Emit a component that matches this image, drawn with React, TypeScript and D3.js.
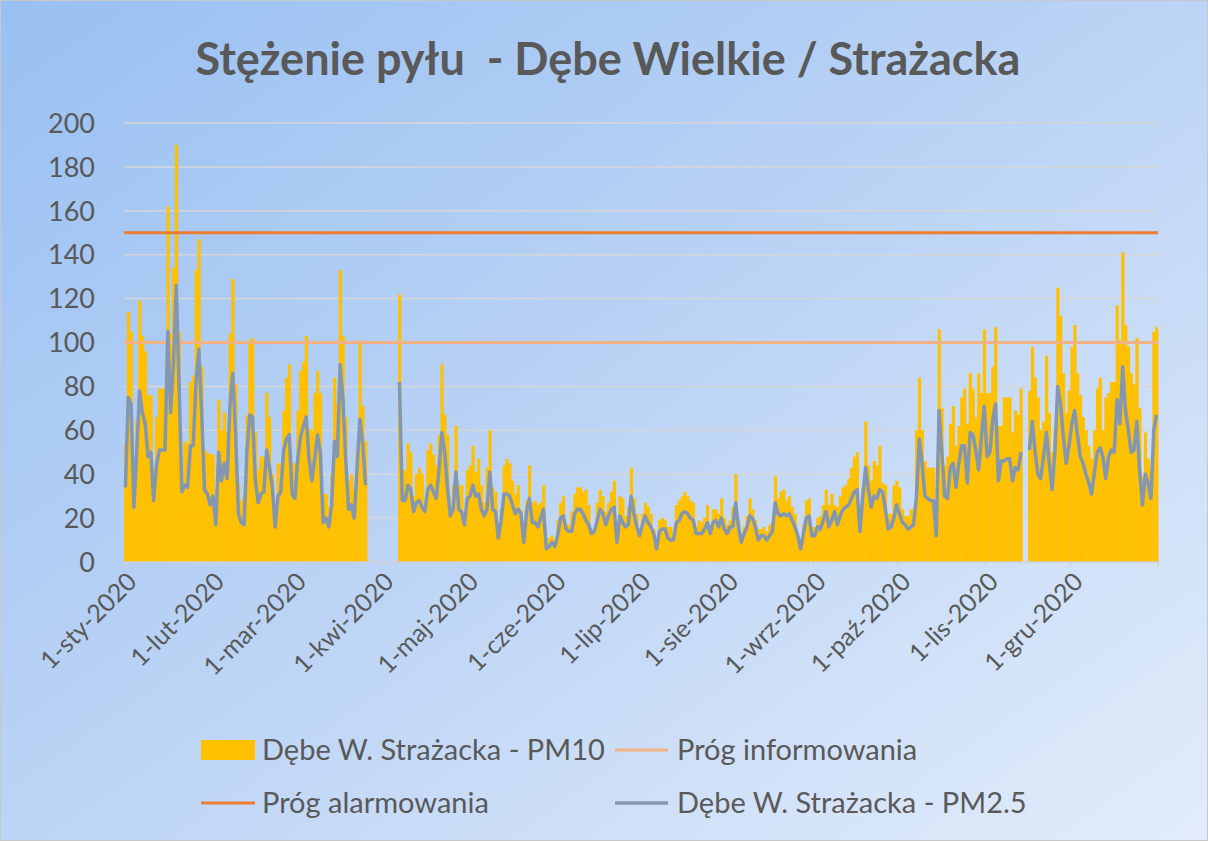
import React from "react";
import * as d3 from "d3";

const TITLE = "Stężenie pyłu  - Dębe Wielkie / Strażacka";
const MONTH_LABELS = ["1-sty-2020", "1-lut-2020", "1-mar-2020", "1-kwi-2020", "1-maj-2020", "1-cze-2020", "1-lip-2020", "1-sie-2020", "1-wrz-2020", "1-paź-2020", "1-lis-2020", "1-gru-2020"];
const Y_TICKS = [0, 20, 40, 60, 80, 100, 120, 140, 160, 180, 200];
const INFO_THRESHOLD = 100;
const ALARM_THRESHOLD = 150;
const SERIES_NAMES = ["Dębe W. Strażacka - PM10", "Próg informowania", "Próg alarmowania", "Dębe W. Strażacka - PM2.5"];

const N = null;
// daily PM10, 1 Jan 2020 – 31 Dec 2020
const PM10: (number | null)[] = [
  // Jan
  54, 114, 105, 30, 64, 119, 103, 96, 76, 76, 43, 66, 79, 79, 79, 162, 104, 134, 190, 105, 36, 55, 54, 82, 85, 133, 147, 89, 51, 50, 49,
  // Feb
  49, 30, 74, 60, 68, 59, 104, 129, 81, 36, 28, 30, 67, 101, 102, 59, 42, 48, 48, 77, 66, 40, 20, 45, 45, 69, 84, 90, 45,
  // Mar
  45, 69, 87, 91, 103, 61, 60, 77, 87, 77, 31, 31, 25, 40, 84, 72, 133, 103, 66, 37, 40, 33, 51, 101, 71, 55, N, N, N, N, N,
  // Apr
  N, N, N, N, N, N, 122, 42, 42, 54, 50, 30, 40, 43, 40, 27, 51, 54, 49, 44, 58, 90, 67, 58, 25, 35, 62, 35, 35, 20,
  // May
  42, 44, 53, 41, 47, 35, 27, 43, 60, 34, 32, 14, 24, 44, 47, 45, 37, 31, 35, 24, 12, 28, 44, 27, 28, 26, 27, 35, 8, 11, 12,
  // Jun
  10, 19, 27, 30, 17, 17, 23, 31, 34, 34, 32, 33, 26, 15, 15, 27, 33, 30, 23, 27, 32, 37, 10, 30, 29, 21, 25, 43, 29, 22,
  // Jul
  12, 22, 27, 25, 22, 15, 6, 19, 20, 19, 16, 16, 13, 26, 28, 30, 32, 30, 28, 27, 16, 19, 18, 20, 26, 17, 24, 24, 22, 29, 20,
  // Aug
  17, 19, 25, 40, 19, 12, 16, 21, 29, 24, 19, 15, 15, 16, 14, 17, 18, 39, 29, 32, 33, 28, 30, 25, 22, 12, 7, 17, 28, 29, 16,
  // Sep
  16, 20, 21, 26, 33, 26, 31, 26, 25, 30, 34, 35, 38, 43, 48, 50, 20, 34, 64, 44, 37, 46, 44, 53, 36, 35, 22, 22, 35, 37,
  // Oct
  34, 24, 21, 21, 24, 24, 60, 84, 60, 46, 43, 43, 43, 12, 106, 70, 44, 48, 63, 71, 53, 62, 75, 79, 63, 86, 79, 66, 86, 77, 106,
  // Nov
  77, 77, 89, 107, 62, 62, 75, 75, 75, 59, 69, 67, 79, N, N, 78, 98, 84, 75, 60, 64, 94, 68, 50, 60, 125, 112, 86, 68, 78,
  // Dec
  98, 108, 86, 76, 66, 60, 53, 47, 60, 79, 84, 60, 75, 77, 82, 82, 117, 101, 141, 108, 98, 86, 81, 102, 70, 39, 59, 47, 42, 105, 107,
];

// daily PM2.5
const PM25: (number | null)[] = [
  // Jan
  34, 75, 72, 25, 50, 78, 68, 63, 48, 50, 28, 44, 51, 51, 51, 105, 68, 90, 126, 80, 32, 35, 34, 53, 53, 82, 97, 68, 33, 31, 26,
  // Feb
  30, 17, 50, 37, 45, 38, 71, 86, 59, 22, 18, 17, 50, 67, 66, 37, 27, 31, 32, 51, 43, 34, 16, 30, 32, 51, 56, 58, 31,
  // Mar
  29, 47, 57, 62, 66, 47, 37, 47, 58, 50, 18, 20, 16, 26, 55, 48, 90, 74, 46, 24, 26, 20, 43, 65, 54, 35, N, N, N, N, N,
  // Apr
  N, N, N, N, N, N, 82, 28, 28, 35, 33, 23, 27, 28, 25, 23, 33, 35, 32, 29, 42, 59, 50, 34, 21, 24, 41, 24, 23, 17,
  // May
  29, 30, 35, 30, 31, 24, 21, 24, 41, 24, 23, 11, 19, 31, 31, 30, 26, 22, 24, 22, 9, 23, 29, 18, 18, 16, 20, 24, 6, 7, 9,
  // Jun
  7, 12, 20, 21, 15, 14, 14, 22, 24, 24, 22, 19, 17, 13, 14, 19, 24, 22, 17, 21, 24, 25, 9, 21, 18, 16, 17, 30, 22, 16,
  // Jul
  12, 17, 21, 18, 16, 13, 6, 14, 15, 15, 11, 10, 10, 18, 19, 22, 23, 22, 20, 19, 13, 13, 13, 15, 18, 13, 18, 19, 16, 20, 15,
  // Aug
  13, 16, 16, 27, 16, 9, 13, 16, 21, 20, 16, 10, 12, 12, 10, 12, 14, 27, 22, 21, 22, 21, 22, 19, 16, 12, 6, 13, 20, 21, 12,
  // Sep
  12, 16, 15, 19, 23, 16, 19, 23, 17, 21, 24, 25, 26, 29, 32, 33, 14, 30, 43, 33, 25, 30, 29, 33, 32, 24, 15, 16, 20, 26,
  // Oct
  22, 18, 17, 15, 16, 17, 30, 56, 45, 30, 29, 28, 28, 12, 69, 50, 30, 29, 43, 45, 34, 45, 53, 53, 36, 59, 58, 51, 42, 57, 71,
  // Nov
  48, 50, 65, 72, 37, 46, 46, 47, 47, 37, 43, 42, 50, N, N, 51, 64, 50, 40, 38, 48, 59, 45, 33, 50, 80, 72, 57, 45, 53,
  // Dec
  63, 69, 58, 48, 45, 40, 36, 31, 41, 50, 52, 48, 38, 48, 51, 50, 74, 63, 89, 69, 60, 50, 51, 64, 42, 26, 40, 36, 29, 60, 67,
];

const W = 1208;
const H = 841;
const X0 = 124;
const X1 = 1158;
const START = new Date(Date.UTC(2020, 0, 1));
const END = new Date(Date.UTC(2021, 0, 1));
const dayDate = (i: number) => new Date(Date.UTC(2020, 0, 1 + i));

const TEXT = "#595959";
const FONT = "Lato, 'Open Sans', sans-serif";
const C_PM10 = "#FFC000";
const C_PM25 = "#8497B0";
const C_INFO = "#F4B183";
const C_ALARM = "#ED7D31";

export default function App() {
  const x = d3.scaleUtc().domain([START, END]).range([X0, X1]);
  const y = d3.scaleLinear().domain([0, 200]).range([562, 123]);
  const monthStarts = d3.utcMonths(START, END);

  const line = d3
    .line<number | null>()
    .defined((d) => d != null)
    .x((_, i) => (x(dayDate(i)) + x(dayDate(i + 1))) / 2)
    .y((d) => y(d as number));

  const thr = (v: number) => `M${X0},${y(v)}H${X1}`;

  return (
    <div style={{ position: "fixed", left: 0, top: 0 }}>
      <svg width={W} height={H} style={{ display: "block" }} fontFamily={FONT}>
        <defs>
          <linearGradient id="bg" x1="0" y1="0" x2="1" y2="1">
            <stop offset="0" stopColor="#99c0f2" />
            <stop offset="0.5" stopColor="#bcd4f5" />
            <stop offset="1" stopColor="#e2ecfa" />
          </linearGradient>
        </defs>
        <rect x={0.5} y={0.5} width={W - 1} height={H - 1} fill="url(#bg)" stroke="#c8c8c8" />

        <text x={608} y={75} textAnchor="middle" fontSize={45} fontWeight="bold" fill={TEXT} style={{ whiteSpace: "pre" }}>
          {TITLE}
        </text>

        {Y_TICKS.map((t) => (
          <g key={t}>
            {t > 0 && <line x1={X0} x2={X1 + 2} y1={y(t)} y2={y(t)} stroke="#d6d6d6" strokeWidth={1.5} />}
            <text x={95} y={y(t)} dy="0.36em" textAnchor="end" fontSize={27} fill={TEXT}>
              {t}
            </text>
          </g>
        ))}

        {PM10.map((v, i) =>
          v == null ? null : (
            <rect
              key={i}
              x={x(dayDate(i))}
              y={y(v)}
              width={x(dayDate(i + 1)) - x(dayDate(i)) + 0.4}
              height={y(0) - y(v)}
              fill={C_PM10}
            />
          )
        )}

        <line x1={X0} x2={X1 + 2} y1={y(0)} y2={y(0)} stroke="#d0d0d0" strokeWidth={1.5} />
        {monthStarts.map((m, i) => (
          <line key={i} x1={x(m)} x2={x(m)} y1={y(0)} y2={y(0) + 5} stroke="#d0d0d0" strokeWidth={1.5} />
        ))}
        <line x1={X1} x2={X1} y1={y(0)} y2={y(0) + 5} stroke="#d0d0d0" strokeWidth={1.5} />

        <path d={thr(ALARM_THRESHOLD)} stroke={C_ALARM} strokeWidth={3} fill="none" />
        <path d={thr(INFO_THRESHOLD)} stroke={C_INFO} strokeWidth={3} fill="none" />
        <path d={line(PM25) || ""} stroke={C_PM25} strokeWidth={3.5} fill="none" strokeLinejoin="round" />

        {monthStarts.map((m, i) => (
          <text
            key={i}
            transform={`translate(${x(m) + 8},${577}) rotate(-45)`}
            textAnchor="end"
            dy="0.35em"
            fontSize={25}
            fill={TEXT}
          >
            {MONTH_LABELS[i]}
          </text>
        ))}

        {/* legend */}
        <rect x={201} y={740} width={54} height={20} fill={C_PM10} />
        <text x={262} y={750} dy="0.35em" fontSize={29} fill={TEXT}>{SERIES_NAMES[0]}</text>
        <line x1={615} x2={668} y1={750} y2={750} stroke={C_INFO} strokeWidth={3} />
        <text x={677} y={750} dy="0.35em" fontSize={29} fill={TEXT}>{SERIES_NAMES[1]}</text>
        <line x1={201} x2={255} y1={803} y2={803} stroke={C_ALARM} strokeWidth={3} />
        <text x={262} y={803} dy="0.35em" fontSize={29} fill={TEXT}>{SERIES_NAMES[2]}</text>
        <line x1={615} x2={668} y1={803} y2={803} stroke={C_PM25} strokeWidth={3.5} />
        <text x={677} y={803} dy="0.35em" fontSize={29} fill={TEXT}>{SERIES_NAMES[3]}</text>
      </svg>
    </div>
  );
}
